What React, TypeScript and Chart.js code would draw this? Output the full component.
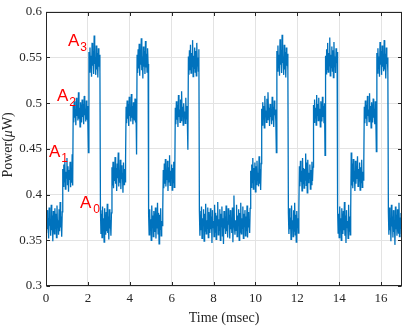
import React, { useEffect, useRef } from "react";
import { Chart, registerables } from "chart.js";

Chart.register(...registerables);

// Axis ticks
const xTicks = [0, 2, 4, 6, 8, 10, 12, 14, 16];
const yTicks = [0.3, 0.35, 0.4, 0.45, 0.5, 0.55, 0.6];
const yTickLabels = ["0.3", "0.35", "0.4", "0.45", "0.5", "0.55", "0.6"];

// Level annotations (A0..A3) placed in data coordinates (msec, μW)
const annoSub = ["3", "2", "1", "0"];
const annoTime = [1.05, 0.52, 0.14, 1.62];
const annoPower = [0.5625, 0.5022, 0.4409, 0.385];

// Segment boundaries (msec) of the power levels
const segmentEdges = [
  0, 0.8, 1.3, 2.05, 2.6, 3.15, 3.825, 4.35, 4.9, 5.6, 6.175, 6.8, 7.325,
  9.775, 10.3, 11.025, 11.575, 12.1, 12.775, 13.35, 13.925, 14.575, 15.2,
  15.8, 16.35, 17.0,
];

// Measured power samples (μW) within each segment
const segmentSamples = [
  // A0
  [0.378,0.358,0.383,0.362,0.374,0.352,0.386,0.366,0.371,0.355,0.389,0.361,0.377,0.349,0.382,0.368,0.357,0.385,0.363,0.379,0.353,0.388,0.365,0.372,0.356,0.384,0.360,0.392,0.364,0.376,0.354,0.381],
  // A1
  [0.428,0.409,0.433,0.414,0.437,0.406,0.425,0.418,0.440,0.411,0.431,0.403,0.427,0.416,0.436,0.408,0.423,0.413,0.444,0.410],
  // A2
  [0.497,0.479,0.502,0.484,0.493,0.476,0.506,0.486,0.498,0.481,0.512,0.483,0.495,0.474,0.501,0.488,0.479,0.504,0.485,0.499,0.477,0.508,0.487,0.494,0.480,0.503,0.482,0.497,0.478,0.446],
  // A3
  [0.556,0.534,0.561,0.538,0.552,0.529,0.566,0.541,0.557,0.532,0.574,0.543,0.550,0.531,0.563,0.537,0.555,0.528,0.560,0.540,0.553,0.535],
  // A0
  [0.383,0.357,0.379,0.353,0.387,0.362,0.374,0.348,0.385,0.365,0.356,0.381,0.360,0.390,0.358,0.376,0.351,0.384,0.363,0.372,0.355,0.380],
  // A1
  [0.430,0.410,0.436,0.407,0.425,0.415,0.441,0.412,0.429,0.404,0.434,0.418,0.446,0.409,0.427,0.413,0.438,0.406,0.432,0.417,0.424,0.402,0.435,0.411,0.428,0.414,0.439],
  // A2
  [0.496,0.478,0.503,0.483,0.499,0.475,0.507,0.486,0.494,0.480,0.510,0.484,0.497,0.477,0.501,0.488,0.481,0.505,0.479,0.492,0.444],
  // A3
  [0.553,0.533,0.559,0.538,0.565,0.530,0.556,0.542,0.571,0.536,0.551,0.527,0.562,0.540,0.557,0.532,0.568,0.539,0.554,0.534,0.560,0.543],
  // A0
  [0.379,0.356,0.384,0.361,0.373,0.350,0.388,0.364,0.377,0.354,0.382,0.367,0.359,0.386,0.352,0.375,0.363,0.391,0.357,0.380,0.346,0.378,0.362,0.385,0.355,0.371,0.366,0.383],
  // A1
  [0.427,0.407,0.434,0.412,0.439,0.409,0.424,0.416,0.437,0.404,0.430,0.414,0.443,0.410,0.426,0.418,0.433,0.405,0.429,0.413,0.436,0.408,0.422],
  // A2
  [0.495,0.477,0.502,0.482,0.498,0.474,0.509,0.485,0.493,0.479,0.504,0.481,0.513,0.487,0.496,0.476,0.500,0.484,0.491,0.478,0.506,0.483,0.497,0.480,0.449],
  // A3
  [0.551,0.531,0.558,0.536,0.564,0.533,0.555,0.540,0.569,0.529,0.552,0.538,0.561,0.534,0.557,0.530,0.566,0.541,0.550,0.535,0.559],
  // A0 (long)
  [0.382,0.355,0.378,0.361,0.387,0.352,0.374,0.366,0.384,0.349,
   0.379,0.360,0.390,0.357,0.372,0.363,0.386,0.353,0.381,0.368,
   0.358,0.385,0.362,0.376,0.347,0.383,0.364,0.371,0.354,0.389,
   0.359,0.380,0.351,0.377,0.366,0.392,0.356,0.373,0.361,0.384,
   0.350,0.379,0.365,0.387,0.355,0.374,0.346,0.382,0.363,0.376,
   0.357,0.388,0.360,0.371,0.353,0.385,0.367,0.378,0.352,0.383,
   0.362,0.375,0.358,0.386,0.348,0.381,0.399,0.364,0.356,0.372,
   0.361,0.389,0.354,0.377,0.366,0.384,0.350,0.380,0.359,0.391,
   0.357,0.374,0.363,0.387,0.352,0.379,0.365,0.383,0.355,0.376,
   0.360,0.388,0.353,0.381,0.364,0.373,0.358,0.385],
  // A1
  [0.426,0.408,0.433,0.413,0.440,0.406,0.429,0.417,0.435,0.403,0.431,0.411,0.437,0.415,0.424,0.409,0.442,0.412,0.428,0.405,0.434],
  // A2
  [0.494,0.476,0.501,0.483,0.497,0.473,0.508,0.486,0.492,0.479,0.505,0.482,0.512,0.488,0.495,0.475,0.499,0.485,0.490,0.477,0.507,0.481,0.496,0.474,0.503,0.487,0.493,0.480,0.446],
  // A3
  [0.557,0.535,0.563,0.539,0.553,0.530,0.570,0.542,0.558,0.533,0.575,0.544,0.551,0.531,0.564,0.537,0.556,0.528,0.561,0.541,0.554,0.536],
  // A0
  [0.380,0.357,0.385,0.362,0.375,0.351,0.388,0.366,0.372,0.354,0.383,0.360,0.391,0.356,0.378,0.348,0.382,0.364,0.374,0.358,0.386],
  // A1
  [0.431,0.409,0.437,0.414,0.426,0.404,0.440,0.412,0.429,0.407,0.428,0.416,0.445,0.410,0.435,0.402,0.438,0.413,0.424,0.418,0.433,0.406,0.427,0.411,0.436,0.415,0.430],
  // A2
  [0.498,0.479,0.504,0.484,0.495,0.476,0.509,0.487,0.499,0.481,0.506,0.483,0.494,0.474,0.502,0.489,0.480,0.507,0.485,0.497,0.478,0.500,0.443],
  // A3
  [0.552,0.532,0.559,0.537,0.566,0.534,0.555,0.541,0.572,0.530,0.553,0.539,0.562,0.535,0.558,0.528,0.567,0.540,0.551,0.533,0.560,0.544,0.556],
  // A0
  [0.384,0.358,0.379,0.353,0.387,0.363,0.374,0.350,0.385,0.366,0.357,0.382,0.361,0.392,0.355,0.377,0.347,0.383,0.364,0.371,0.352,0.389,0.360,0.376,0.356,0.381],
  // A1
  [0.446,0.410,0.434,0.407,0.439,0.414,0.426,0.404,0.437,0.412,0.431,0.417,0.442,0.409,0.428,0.415,0.435,0.405,0.430,0.413,0.438,0.408,0.425,0.416,0.433],
  // A2
  [0.496,0.478,0.503,0.483,0.498,0.475,0.508,0.486,0.493,0.480,0.511,0.482,0.497,0.473,0.501,0.488,0.479,0.505,0.484,0.494,0.477,0.502,0.485,0.447],
  // A3
  [0.555,0.533,0.560,0.538,0.551,0.529,0.567,0.542,0.557,0.531,0.563,0.540,0.553,0.535,0.569,0.537,0.554,0.527,0.561,0.543,0.550,0.534],
  // A0
  [0.381,0.356,0.386,0.361,0.373,0.349,0.389,0.365,0.376,0.353,0.383,0.359,0.370,0.345,0.387,0.362,0.378,0.355,0.384,0.367,0.358,0.391,0.354,0.375,0.363,0.380,0.357],
];

const SERIF = "'Liberation Serif', 'Times New Roman', serif";
const SANS = "'Liberation Sans', Arial, sans-serif";
const AXIS_COLOR = "#262626";

function buildPoints() {
  const pts: { x: number; y: number }[] = [];
  segmentSamples.forEach((samples, k) => {
    const t0 = segmentEdges[k];
    const t1 = segmentEdges[k + 1];
    const step = (t1 - t0) / samples.length;
    samples.forEach((v, i) => pts.push({ x: t0 + i * step, y: v }));
  });
  return pts;
}

const framePlugin = {
  id: "frame",
  afterDatasetsDraw(chart: any) {
    const { ctx, chartArea: a, scales } = chart;
    const xs = scales.x;
    const ys = scales.y;
    ctx.save();
    ctx.strokeStyle = AXIS_COLOR;
    ctx.lineWidth = 1;
    const L = Math.round(a.left) + 0.5;
    const R = Math.round(a.right) - 0.5;
    const T = Math.round(a.top) + 0.5;
    const B = Math.round(a.bottom) - 0.5;
    ctx.strokeRect(L, T, R - L, B - T);
    const tl = 3.5;
    ctx.beginPath();
    xTicks.forEach((v) => {
      const px = Math.round(xs.getPixelForValue(v)) + 0.5;
      ctx.moveTo(px, B);
      ctx.lineTo(px, B - tl);
      ctx.moveTo(px, T);
      ctx.lineTo(px, T + tl);
    });
    yTicks.forEach((v) => {
      const py = Math.round(ys.getPixelForValue(v)) + 0.5;
      ctx.moveTo(L, py);
      ctx.lineTo(L + tl, py);
      ctx.moveTo(R, py);
      ctx.lineTo(R - tl, py);
    });
    ctx.stroke();

    // level annotations
    ctx.fillStyle = "#ff0000";
    ctx.textBaseline = "alphabetic";
    ctx.textAlign = "left";
    annoSub.forEach((sub, i) => {
      const px = xs.getPixelForValue(annoTime[i]);
      const py = ys.getPixelForValue(annoPower[i]);
      ctx.font = `17px ${SANS}`;
      ctx.fillText("A", px, py);
      const w = ctx.measureText("A").width;
      ctx.font = `12px ${SANS}`;
      ctx.fillText(sub, px + w + (sub === "0" ? 2 : 1), py + 5);
    });

    // y-axis title with italic mu
    const parts: [string, string][] = [
      ["Power(", `14px ${SERIF}`],
      ["\u03bc", `italic 14px ${SERIF}`],
      ["W)", `14px ${SERIF}`],
    ];
    let total = 0;
    parts.forEach(([t, f]) => {
      ctx.font = f;
      total += ctx.measureText(t).width;
    });
    ctx.translate(8, (a.top + a.bottom) / 2 - 4);
    ctx.rotate(-Math.PI / 2);
    ctx.fillStyle = AXIS_COLOR;
    ctx.textBaseline = "middle";
    let cx = -total / 2;
    parts.forEach(([t, f]) => {
      ctx.font = f;
      ctx.fillText(t, cx, 0);
      cx += ctx.measureText(t).width;
    });
    ctx.restore();
  },
};

export default function App() {
  const canvasRef = useRef<HTMLCanvasElement | null>(null);

  useEffect(() => {
    const canvas = canvasRef.current;
    if (!canvas) return;
    const chart = new Chart(canvas, {
      type: "line",
      data: {
        datasets: [
          {
            data: buildPoints(),
            borderColor: "#0072BD",
            borderWidth: 1.3,
            pointRadius: 0,
            tension: 0,
            fill: false,
          },
        ],
      },
      options: {
        animation: false,
        responsive: false,
        devicePixelRatio: 1,
        parsing: false,
        normalized: true,
        layout: { padding: { left: 0, right: 5, top: 7, bottom: 0 } },
        plugins: {
          legend: { display: false },
          tooltip: { enabled: false },
        },
        scales: {
          x: {
            type: "linear",
            min: 0,
            max: 17,
            afterBuildTicks: (s: any) => {
              s.ticks = xTicks.map((v) => ({ value: v }));
            },
            afterFit: (s: any) => {
              s.height = 43;
            },
            ticks: {
              font: { family: SERIF, size: 13 },
              color: AXIS_COLOR,
              padding: 5,
              maxRotation: 0,
              autoSkip: false,
              callback: (v: any) => String(v),
            },
            grid: { color: "#e3e3e3", drawTicks: false, lineWidth: 1 },
            border: { display: false },
            title: {
              display: true,
              text: "Time (msec)",
              font: { family: SERIF, size: 14 },
              color: AXIS_COLOR,
              padding: { top: 0, bottom: 2 },
            },
          },
          y: {
            type: "linear",
            min: 0.3,
            max: 0.6,
            afterBuildTicks: (s: any) => {
              s.ticks = yTicks.map((v) => ({ value: v }));
            },
            afterFit: (s: any) => {
              s.width = 46;
            },
            ticks: {
              font: { family: SERIF, size: 13 },
              color: AXIS_COLOR,
              padding: 4,
              autoSkip: false,
              callback: (v: any, i: number) => yTickLabels[i],
            },
            grid: { color: "#e3e3e3", drawTicks: false, lineWidth: 1 },
            border: { display: false },
          },
        },
      },
      plugins: [framePlugin],
    });
    return () => chart.destroy();
  }, []);

  return (
    <div style={{ position: "absolute", left: 0, top: 0, width: 407, height: 329, background: "#fff" }}>
      <canvas ref={canvasRef} width={407} height={329} style={{ display: "block" }} />
    </div>
  );
}
